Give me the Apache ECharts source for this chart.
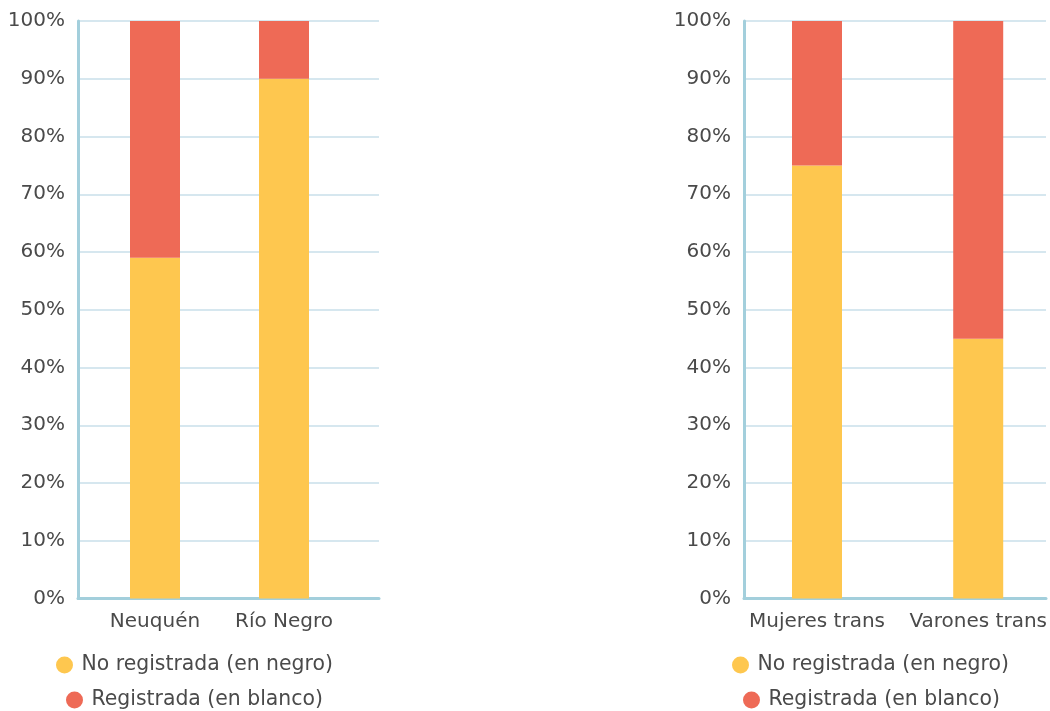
<!DOCTYPE html>
<html>
<head>
<meta charset="utf-8">
<script src="https://cdn.jsdelivr.net/npm/echarts@6/dist/echarts.min.js"></script>
<style>html,body{margin:0;padding:0;background:#fff;}#c{width:1050px;height:711px;}</style>
</head>
<body>
<div id="c"></div>
<script>
const categoriesLeft = ['Neuquén', 'Río Negro'];
const noRegistradaLeft = [59, 90];
const registradaLeft = [41, 10];
const categoriesRight = ['Mujeres trans', 'Varones trans'];
const noRegistradaRight = [75, 45];
const registradaRight = [25, 55];
const yTicks = [0, 10, 20, 30, 40, 50, 60, 70, 80, 90, 100];
const seriesNames = ['No registrada (en negro)', 'Registrada (en blanco)'];

const FONT = 'DejaVu Sans';
const TXT = '#4a4a4a';
const AXIS = '#A3CFDC';
const GRIDC = '#D6E7EF';
const YEL = '#FEC74F';
const RED = '#EE6A56';

const chart = echarts.init(document.getElementById('c'));
const gTop = 21, gBottom = 112.5;

function decorY(gi) {
  return {
    type: 'value', gridIndex: gi, min: yTicks[0], max: yTicks[yTicks.length - 1], interval: 10,
    axisLine: { show: true, lineStyle: { color: AXIS, width: 3 } },
    axisTick: { show: false },
    axisLabel: { formatter: '{value}%', color: TXT, fontFamily: FONT, fontSize: 20, margin: 13 },
    splitLine: { show: true, lineStyle: { color: GRIDC, width: 2 } }
  };
}
function decorX(gi) {
  return {
    type: 'value', gridIndex: gi, min: 0, max: 1,
    axisLine: { show: true, onZero: false, lineStyle: { color: AXIS, width: 3 } },
    axisTick: { show: false }, axisLabel: { show: false }, splitLine: { show: false }
  };
}
function barX(gi, cats) {
  return {
    type: 'category', gridIndex: gi, data: cats, boundaryGap: false,
    axisLine: { show: false }, axisTick: { show: false },
    axisLabel: { color: TXT, fontFamily: FONT, fontSize: 20, margin: 13, interval: 0, hideOverlap: false }
  };
}
function barY(gi) {
  return { type: 'value', gridIndex: gi, min: 0, max: 100, show: false, splitLine: { show: false } };
}
function legend(name, left, topPx) {
  return {
    data: [name], left: left, top: topPx, orient: 'horizontal',
    icon: 'circle', itemWidth: 24, itemHeight: 17,
    textStyle: { color: TXT, fontFamily: FONT, fontSize: 20.4 }, padding: 0
  };
}

chart.setOption({
  animation: false,
  backgroundColor: '#fff',
  grid: [
    { left: 78, right: 1050 - 379, top: gTop, bottom: gBottom },
    { left: 744, right: 4, top: gTop, bottom: gBottom },
    { left: 155, width: 129, top: gTop, bottom: gBottom },
    { left: 817, width: 162, top: gTop, bottom: gBottom }
  ],
  xAxis: [decorX(0), decorX(1), barX(2, categoriesLeft), barX(3, categoriesRight)],
  yAxis: [decorY(0), decorY(1), barY(2), barY(3)],
  legend: [
    legend(seriesNames[0], 56, 655),
    legend(seriesNames[1], 66, 690),
    legend(seriesNames[0], 732, 655),
    legend(seriesNames[1], 743, 690)
  ],
  series: [
    { name: seriesNames[0], type: 'bar', stack: 'l', clip: false, xAxisIndex: 2, yAxisIndex: 2, barWidth: 50, itemStyle: { color: YEL }, data: noRegistradaLeft },
    { name: seriesNames[1], type: 'bar', stack: 'l', clip: false, xAxisIndex: 2, yAxisIndex: 2, barWidth: 50, itemStyle: { color: RED }, data: registradaLeft },
    { name: seriesNames[0], type: 'bar', stack: 'r', clip: false, xAxisIndex: 3, yAxisIndex: 3, barWidth: 50, itemStyle: { color: YEL }, data: noRegistradaRight },
    { name: seriesNames[1], type: 'bar', stack: 'r', clip: false, xAxisIndex: 3, yAxisIndex: 3, barWidth: 50, itemStyle: { color: RED }, data: registradaRight }
  ]
});
</script>
</body>
</html>
